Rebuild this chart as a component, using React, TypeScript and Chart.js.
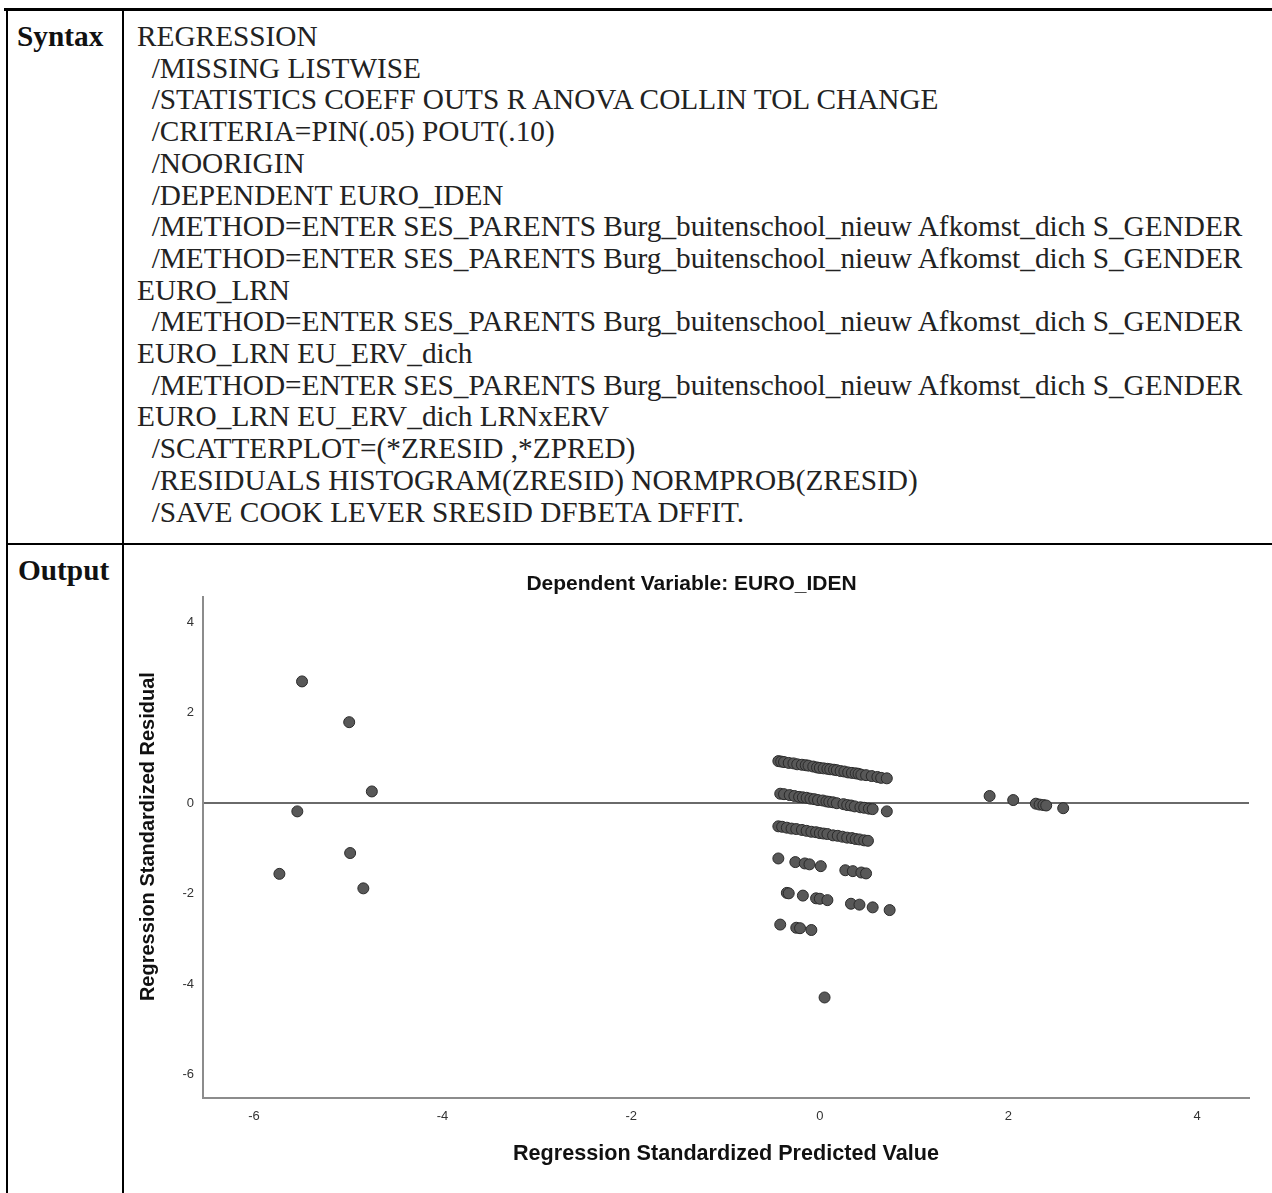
import React, { useEffect, useRef } from "react";
import { Chart, registerables } from "chart.js";

Chart.register(...registerables);

// ---------- Syntax text ----------
const syntaxLines: string[] = [
  "REGRESSION",
  "  /MISSING LISTWISE",
  "  /STATISTICS COEFF OUTS R ANOVA COLLIN TOL CHANGE",
  "  /CRITERIA=PIN(.05) POUT(.10)",
  "  /NOORIGIN",
  "  /DEPENDENT EURO_IDEN",
  "  /METHOD=ENTER SES_PARENTS Burg_buitenschool_nieuw Afkomst_dich S_GENDER",
  "  /METHOD=ENTER SES_PARENTS Burg_buitenschool_nieuw Afkomst_dich S_GENDER",
  "EURO_LRN",
  "  /METHOD=ENTER SES_PARENTS Burg_buitenschool_nieuw Afkomst_dich S_GENDER",
  "EURO_LRN EU_ERV_dich",
  "  /METHOD=ENTER SES_PARENTS Burg_buitenschool_nieuw Afkomst_dich S_GENDER",
  "EURO_LRN EU_ERV_dich LRNxERV",
  "  /SCATTERPLOT=(*ZRESID ,*ZPRED)",
  "  /RESIDUALS HISTOGRAM(ZRESID) NORMPROB(ZRESID)",
  "  /SAVE COOK LEVER SRESID DFBETA DFFIT.",
];

// ---------- Chart data (standardized predicted value, standardized residual) ----------
const leftPred = [-5.49, -4.99, -4.75, -5.54, -4.98, -5.73, -4.84];
const leftResid = [2.69, 1.79, 0.26, -0.18, -1.1, -1.56, -1.88];

const band1Pred = [-0.44, -0.41, -0.38, -0.33, -0.28, -0.24, -0.19, -0.15, -0.12, -0.07, -0.03, 0.0, 0.04, 0.08, 0.11, 0.15, 0.18, 0.22, 0.26, 0.3, 0.34, 0.38, 0.41, 0.44, 0.49, 0.55, 0.61, 0.65, 0.71];
const band1Resid = [0.93, 0.92, 0.91, 0.89, 0.88, 0.86, 0.85, 0.84, 0.83, 0.81, 0.79, 0.78, 0.77, 0.76, 0.75, 0.74, 0.73, 0.71, 0.7, 0.68, 0.67, 0.66, 0.65, 0.63, 0.62, 0.6, 0.58, 0.56, 0.55];

const band2Pred = [-0.42, -0.38, -0.32, -0.27, -0.22, -0.18, -0.14, -0.1, -0.06, -0.02, 0.03, 0.07, 0.1, 0.14, 0.18, 0.25, 0.29, 0.33, 0.37, 0.43, 0.47, 0.52, 0.56, 0.71];
const band2Resid = [0.21, 0.2, 0.18, 0.16, 0.14, 0.13, 0.12, 0.1, 0.09, 0.07, 0.06, 0.04, 0.03, 0.02, 0.0, -0.02, -0.04, -0.05, -0.07, -0.09, -0.1, -0.12, -0.13, -0.18];

const band3Pred = [-0.44, -0.4, -0.35, -0.3, -0.25, -0.19, -0.14, -0.09, -0.04, 0.0, 0.04, 0.08, 0.14, 0.19, 0.24, 0.29, 0.34, 0.38, 0.42, 0.47, 0.51];
const band3Resid = [-0.51, -0.52, -0.54, -0.56, -0.57, -0.59, -0.61, -0.63, -0.64, -0.66, -0.67, -0.68, -0.71, -0.72, -0.74, -0.76, -0.77, -0.79, -0.8, -0.82, -0.83];

const band4Pred = [-0.44, -0.26, -0.16, -0.11, 0.01, 0.27, 0.35, 0.44, 0.49];
const band4Resid = [-1.22, -1.3, -1.33, -1.35, -1.39, -1.48, -1.5, -1.53, -1.55];

const band5Pred = [-0.35, -0.33, -0.18, -0.04, 0.0, 0.08, 0.33, 0.42, 0.56, 0.74];
const band5Resid = [-1.98, -1.99, -2.04, -2.1, -2.11, -2.14, -2.22, -2.24, -2.3, -2.36];

const band6Pred = [-0.42, -0.25, -0.21, -0.09];
const band6Resid = [-2.68, -2.75, -2.76, -2.8];

const lowPred = [0.05];
const lowResid = [-4.29];

const rightPred = [1.8, 2.05, 2.29, 2.33, 2.37, 2.4, 2.58];
const rightResid = [0.16, 0.07, -0.01, -0.03, -0.04, -0.05, -0.11];

const xAxisMin = -6.54;
const xAxisMax = 4.55;
const yAxisMin = -6.51;
const yAxisMax = 4.55;
const tickStep = 2;

const chartTitle = "Dependent Variable: EURO_IDEN";
const xTitle = "Regression Standardized Predicted Value";
const yTitle = "Regression Standardized Residual";

const groups: [number[], number[]][] = [
  [leftPred, leftResid],
  [band1Pred, band1Resid],
  [band2Pred, band2Resid],
  [band3Pred, band3Resid],
  [band4Pred, band4Resid],
  [band5Pred, band5Resid],
  [band6Pred, band6Resid],
  [lowPred, lowResid],
  [rightPred, rightResid],
];

const SANS = '"Liberation Sans", Arial, Helvetica, sans-serif';
const SERIF = '"Liberation Serif", "Times New Roman", Times, serif';

// y-axis title drawn slightly above the axis centre, as in the SPSS output
const yTitlePlugin = {
  id: "yTitleText",
  afterDraw(chart: any) {
    const { ctx, chartArea } = chart;
    const yScale = chart.scales.y;
    ctx.save();
    ctx.translate(yScale.left + 14, (chartArea.top + chartArea.bottom) / 2 - 11);
    ctx.rotate(-Math.PI / 2);
    ctx.font = `bold 20px ${SANS}`;
    ctx.fillStyle = "#111";
    ctx.textAlign = "center";
    ctx.textBaseline = "middle";
    ctx.fillText(yTitle, 0, 0);
    ctx.restore();
  },
};

function ScatterChart() {
  const ref = useRef<HTMLCanvasElement | null>(null);
  useEffect(() => {
    const canvas = ref.current;
    if (!canvas) return;
    const points: { x: number; y: number }[] = [];
    groups.forEach(([xs, ys]) => {
      xs.forEach((x, i) => points.push({ x, y: ys[i] }));
    });
    const chart = new Chart(canvas, {
      type: "scatter",
      data: {
        datasets: [
          {
            data: points,
            backgroundColor: "#585858",
            borderColor: "#2a2a2a",
            borderWidth: 1,
            pointRadius: 5.5,
            pointHoverRadius: 5.5,
          },
        ],
      },
      plugins: [yTitlePlugin],
      options: {
        animation: false,
        responsive: false,
        maintainAspectRatio: false,
        events: [],
        layout: { padding: { left: 0, right: 23, top: 0, bottom: 0 } },
        plugins: {
          legend: { display: false },
          tooltip: { enabled: false },
          title: {
            display: true,
            text: chartTitle,
            color: "#111",
            font: { family: SANS, size: 21, weight: "bold" },
            padding: { top: 26, bottom: 0 },
          },
        },
        scales: {
          x: {
            type: "linear",
            min: xAxisMin,
            max: xAxisMax,
            afterFit: (s: any) => {
              s.height = 95;
            },
            grid: { display: false, drawTicks: false },
            border: { display: true, color: "#8c8c8c", width: 2 },
            ticks: {
              stepSize: tickStep,
              includeBounds: false,
              padding: 11,
              color: "#333",
              font: { family: SANS, size: 13 },
              callback: (v: any) => String(v),
            },
            title: {
              display: true,
              text: xTitle,
              color: "#111",
              font: { family: SANS, size: 21.6, weight: "bold" },
              padding: { top: 0, bottom: 26 },
            },
          },
          y: {
            type: "linear",
            min: yAxisMin,
            max: yAxisMax,
            afterFit: (s: any) => {
              s.width = 69;
            },
            grid: {
              display: true,
              drawTicks: false,
              lineWidth: 2,
              color: (ctx: any) =>
                ctx.tick && ctx.tick.value === 0 ? "#6a6a6a" : "rgba(0,0,0,0)",
            },
            border: { display: true, color: "#8c8c8c", width: 2 },
            ticks: {
              stepSize: tickStep,
              includeBounds: false,
              padding: 9,
              color: "#333",
              font: { family: SANS, size: 13 },
              callback: (v: any) => String(v),
            },
            title: { display: false },
          },
        },
      },
    } as any);
    return () => chart.destroy();
  }, []);
  return (
    <canvas
      ref={ref}
      width={1138}
      height={647}
      style={{ position: "absolute", left: 134, top: 546, width: 1138, height: 647, display: "block" }}
    />
  );
}

const line = (s: React.CSSProperties): React.CSSProperties => ({
  position: "absolute",
  background: "#000",
  ...s,
});

const FS = 29.3;

export default function App() {
  return (
    <div
      style={{
        position: "absolute",
        left: 0,
        top: 0,
        width: 1272,
        height: 1193,
        overflow: "hidden",
        background: "#fff",
      }}
    >
      {/* table borders */}
      <div style={line({ left: 4, top: 8, width: 1268, height: 3 })} />
      <div style={line({ left: 6, top: 8, width: 2, height: 1185 })} />
      <div style={line({ left: 122, top: 8, width: 2, height: 1185 })} />
      <div style={line({ left: 6, top: 543, width: 1266, height: 2 })} />

      {/* labels */}
      <div
        style={{
          position: "absolute",
          left: 17,
          top: 21,
          fontFamily: SERIF,
          fontWeight: "bold",
          fontSize: FS,
          lineHeight: "31.7px",
          color: "#111",
        }}
      >
        Syntax
      </div>
      <div
        style={{
          position: "absolute",
          left: 18,
          top: 555,
          fontFamily: SERIF,
          fontWeight: "bold",
          fontSize: FS,
          lineHeight: "31.7px",
          color: "#111",
        }}
      >
        Output
      </div>

      {/* syntax */}
      <div
        style={{
          position: "absolute",
          left: 137,
          top: 21,
          fontFamily: SERIF,
          fontSize: FS,
          lineHeight: "31.7px",
          color: "#222",
          whiteSpace: "pre",
        }}
      >
        {syntaxLines.map((l, i) => (
          <div key={i}>{l}</div>
        ))}
      </div>

      <ScatterChart />
    </div>
  );
}
